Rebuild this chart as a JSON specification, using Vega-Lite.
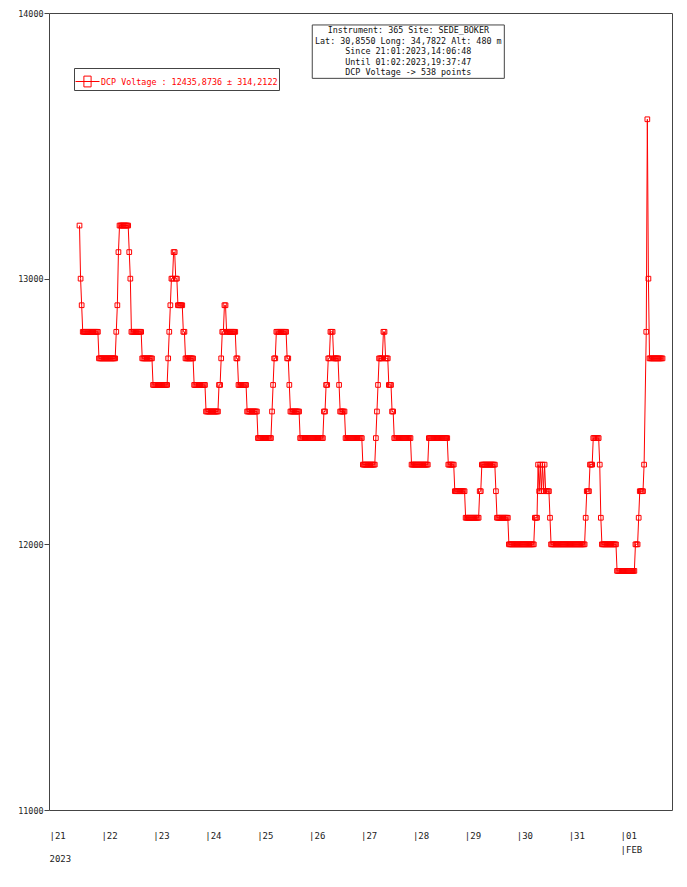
{
  "$schema": "https://vega.github.io/schema/vega-lite/v6.json",
  "width": 623,
  "height": 797,
  "autosize": {"type": "none"},
  "padding": {"left": 49, "top": 13, "right": 15, "bottom": 77},
  "background": "white",
  "config": {
    "font": "DejaVu Sans Mono",
    "view": {"stroke": "#444", "strokeWidth": 1}
  },
  "data": {
    "format": {"parse": {"t": "date:'%Y-%m-%d %H:%M'"}},
    "values": [
      {"t": "2023-01-21 14:06", "v": 13200},
      {"t": "2023-01-21 14:36", "v": 13000},
      {"t": "2023-01-21 15:06", "v": 12900},
      {"t": "2023-01-21 15:36", "v": 12800},
      {"t": "2023-01-21 16:06", "v": 12800},
      {"t": "2023-01-21 16:36", "v": 12800},
      {"t": "2023-01-21 17:06", "v": 12800},
      {"t": "2023-01-21 17:36", "v": 12800},
      {"t": "2023-01-21 18:06", "v": 12800},
      {"t": "2023-01-21 18:36", "v": 12800},
      {"t": "2023-01-21 19:06", "v": 12800},
      {"t": "2023-01-21 19:36", "v": 12800},
      {"t": "2023-01-21 20:06", "v": 12800},
      {"t": "2023-01-21 20:36", "v": 12800},
      {"t": "2023-01-21 21:06", "v": 12800},
      {"t": "2023-01-21 21:36", "v": 12800},
      {"t": "2023-01-21 22:06", "v": 12800},
      {"t": "2023-01-21 22:36", "v": 12800},
      {"t": "2023-01-21 23:06", "v": 12700},
      {"t": "2023-01-21 23:36", "v": 12700},
      {"t": "2023-01-22 00:06", "v": 12700},
      {"t": "2023-01-22 00:36", "v": 12700},
      {"t": "2023-01-22 01:06", "v": 12700},
      {"t": "2023-01-22 01:36", "v": 12700},
      {"t": "2023-01-22 02:06", "v": 12700},
      {"t": "2023-01-22 02:36", "v": 12700},
      {"t": "2023-01-22 03:06", "v": 12700},
      {"t": "2023-01-22 03:36", "v": 12700},
      {"t": "2023-01-22 04:06", "v": 12700},
      {"t": "2023-01-22 04:36", "v": 12700},
      {"t": "2023-01-22 05:06", "v": 12700},
      {"t": "2023-01-22 05:36", "v": 12700},
      {"t": "2023-01-22 06:06", "v": 12700},
      {"t": "2023-01-22 06:36", "v": 12700},
      {"t": "2023-01-22 07:06", "v": 12800},
      {"t": "2023-01-22 07:36", "v": 12900},
      {"t": "2023-01-22 08:06", "v": 13100},
      {"t": "2023-01-22 08:36", "v": 13200},
      {"t": "2023-01-22 09:06", "v": 13200},
      {"t": "2023-01-22 09:36", "v": 13200},
      {"t": "2023-01-22 10:06", "v": 13200},
      {"t": "2023-01-22 10:36", "v": 13200},
      {"t": "2023-01-22 11:06", "v": 13200},
      {"t": "2023-01-22 11:36", "v": 13200},
      {"t": "2023-01-22 12:06", "v": 13200},
      {"t": "2023-01-22 12:36", "v": 13200},
      {"t": "2023-01-22 13:06", "v": 13100},
      {"t": "2023-01-22 13:36", "v": 13000},
      {"t": "2023-01-22 14:06", "v": 12800},
      {"t": "2023-01-22 14:36", "v": 12800},
      {"t": "2023-01-22 15:06", "v": 12800},
      {"t": "2023-01-22 15:36", "v": 12800},
      {"t": "2023-01-22 16:06", "v": 12800},
      {"t": "2023-01-22 16:36", "v": 12800},
      {"t": "2023-01-22 17:06", "v": 12800},
      {"t": "2023-01-22 17:36", "v": 12800},
      {"t": "2023-01-22 18:06", "v": 12800},
      {"t": "2023-01-22 18:36", "v": 12800},
      {"t": "2023-01-22 19:06", "v": 12700},
      {"t": "2023-01-22 19:36", "v": 12700},
      {"t": "2023-01-22 20:06", "v": 12700},
      {"t": "2023-01-22 20:36", "v": 12700},
      {"t": "2023-01-22 21:06", "v": 12700},
      {"t": "2023-01-22 21:36", "v": 12700},
      {"t": "2023-01-22 22:06", "v": 12700},
      {"t": "2023-01-22 22:36", "v": 12700},
      {"t": "2023-01-22 23:06", "v": 12700},
      {"t": "2023-01-22 23:36", "v": 12700},
      {"t": "2023-01-23 00:06", "v": 12600},
      {"t": "2023-01-23 00:36", "v": 12600},
      {"t": "2023-01-23 01:06", "v": 12600},
      {"t": "2023-01-23 01:36", "v": 12600},
      {"t": "2023-01-23 02:06", "v": 12600},
      {"t": "2023-01-23 02:36", "v": 12600},
      {"t": "2023-01-23 03:06", "v": 12600},
      {"t": "2023-01-23 03:36", "v": 12600},
      {"t": "2023-01-23 04:06", "v": 12600},
      {"t": "2023-01-23 04:36", "v": 12600},
      {"t": "2023-01-23 05:06", "v": 12600},
      {"t": "2023-01-23 05:36", "v": 12600},
      {"t": "2023-01-23 06:06", "v": 12600},
      {"t": "2023-01-23 06:36", "v": 12600},
      {"t": "2023-01-23 07:06", "v": 12700},
      {"t": "2023-01-23 07:36", "v": 12800},
      {"t": "2023-01-23 08:06", "v": 12900},
      {"t": "2023-01-23 08:36", "v": 13000},
      {"t": "2023-01-23 09:06", "v": 13000},
      {"t": "2023-01-23 09:36", "v": 13100},
      {"t": "2023-01-23 10:06", "v": 13100},
      {"t": "2023-01-23 10:36", "v": 13000},
      {"t": "2023-01-23 11:06", "v": 13000},
      {"t": "2023-01-23 11:36", "v": 12900},
      {"t": "2023-01-23 12:06", "v": 12900},
      {"t": "2023-01-23 12:36", "v": 12900},
      {"t": "2023-01-23 13:06", "v": 12900},
      {"t": "2023-01-23 13:36", "v": 12900},
      {"t": "2023-01-23 14:06", "v": 12800},
      {"t": "2023-01-23 14:36", "v": 12800},
      {"t": "2023-01-23 15:06", "v": 12700},
      {"t": "2023-01-23 15:36", "v": 12700},
      {"t": "2023-01-23 16:06", "v": 12700},
      {"t": "2023-01-23 16:36", "v": 12700},
      {"t": "2023-01-23 17:06", "v": 12700},
      {"t": "2023-01-23 17:36", "v": 12700},
      {"t": "2023-01-23 18:06", "v": 12700},
      {"t": "2023-01-23 18:36", "v": 12700},
      {"t": "2023-01-23 19:06", "v": 12600},
      {"t": "2023-01-23 19:36", "v": 12600},
      {"t": "2023-01-23 20:06", "v": 12600},
      {"t": "2023-01-23 20:36", "v": 12600},
      {"t": "2023-01-23 21:06", "v": 12600},
      {"t": "2023-01-23 21:36", "v": 12600},
      {"t": "2023-01-23 22:06", "v": 12600},
      {"t": "2023-01-23 22:36", "v": 12600},
      {"t": "2023-01-23 23:06", "v": 12600},
      {"t": "2023-01-23 23:36", "v": 12600},
      {"t": "2023-01-24 00:06", "v": 12600},
      {"t": "2023-01-24 00:36", "v": 12500},
      {"t": "2023-01-24 01:06", "v": 12500},
      {"t": "2023-01-24 01:36", "v": 12500},
      {"t": "2023-01-24 02:06", "v": 12500},
      {"t": "2023-01-24 02:36", "v": 12500},
      {"t": "2023-01-24 03:06", "v": 12500},
      {"t": "2023-01-24 03:36", "v": 12500},
      {"t": "2023-01-24 04:06", "v": 12500},
      {"t": "2023-01-24 04:36", "v": 12500},
      {"t": "2023-01-24 05:06", "v": 12500},
      {"t": "2023-01-24 05:36", "v": 12500},
      {"t": "2023-01-24 06:06", "v": 12500},
      {"t": "2023-01-24 06:36", "v": 12600},
      {"t": "2023-01-24 07:06", "v": 12600},
      {"t": "2023-01-24 07:36", "v": 12700},
      {"t": "2023-01-24 08:06", "v": 12800},
      {"t": "2023-01-24 08:36", "v": 12800},
      {"t": "2023-01-24 09:06", "v": 12900},
      {"t": "2023-01-24 09:36", "v": 12900},
      {"t": "2023-01-24 10:06", "v": 12800},
      {"t": "2023-01-24 10:36", "v": 12800},
      {"t": "2023-01-24 11:06", "v": 12800},
      {"t": "2023-01-24 11:36", "v": 12800},
      {"t": "2023-01-24 12:06", "v": 12800},
      {"t": "2023-01-24 12:36", "v": 12800},
      {"t": "2023-01-24 13:06", "v": 12800},
      {"t": "2023-01-24 13:36", "v": 12800},
      {"t": "2023-01-24 14:06", "v": 12800},
      {"t": "2023-01-24 14:36", "v": 12700},
      {"t": "2023-01-24 15:06", "v": 12700},
      {"t": "2023-01-24 15:36", "v": 12600},
      {"t": "2023-01-24 16:06", "v": 12600},
      {"t": "2023-01-24 16:36", "v": 12600},
      {"t": "2023-01-24 17:06", "v": 12600},
      {"t": "2023-01-24 17:36", "v": 12600},
      {"t": "2023-01-24 18:06", "v": 12600},
      {"t": "2023-01-24 18:36", "v": 12600},
      {"t": "2023-01-24 19:06", "v": 12600},
      {"t": "2023-01-24 19:36", "v": 12500},
      {"t": "2023-01-24 20:06", "v": 12500},
      {"t": "2023-01-24 20:36", "v": 12500},
      {"t": "2023-01-24 21:06", "v": 12500},
      {"t": "2023-01-24 21:36", "v": 12500},
      {"t": "2023-01-24 22:06", "v": 12500},
      {"t": "2023-01-24 22:36", "v": 12500},
      {"t": "2023-01-24 23:06", "v": 12500},
      {"t": "2023-01-24 23:36", "v": 12500},
      {"t": "2023-01-25 00:06", "v": 12500},
      {"t": "2023-01-25 00:36", "v": 12400},
      {"t": "2023-01-25 01:06", "v": 12400},
      {"t": "2023-01-25 01:36", "v": 12400},
      {"t": "2023-01-25 02:06", "v": 12400},
      {"t": "2023-01-25 02:36", "v": 12400},
      {"t": "2023-01-25 03:06", "v": 12400},
      {"t": "2023-01-25 03:36", "v": 12400},
      {"t": "2023-01-25 04:06", "v": 12400},
      {"t": "2023-01-25 04:36", "v": 12400},
      {"t": "2023-01-25 05:06", "v": 12400},
      {"t": "2023-01-25 05:36", "v": 12400},
      {"t": "2023-01-25 06:06", "v": 12400},
      {"t": "2023-01-25 06:36", "v": 12400},
      {"t": "2023-01-25 07:06", "v": 12500},
      {"t": "2023-01-25 07:36", "v": 12600},
      {"t": "2023-01-25 08:06", "v": 12700},
      {"t": "2023-01-25 08:36", "v": 12700},
      {"t": "2023-01-25 09:06", "v": 12800},
      {"t": "2023-01-25 09:36", "v": 12800},
      {"t": "2023-01-25 10:06", "v": 12800},
      {"t": "2023-01-25 10:36", "v": 12800},
      {"t": "2023-01-25 11:06", "v": 12800},
      {"t": "2023-01-25 11:36", "v": 12800},
      {"t": "2023-01-25 12:06", "v": 12800},
      {"t": "2023-01-25 12:36", "v": 12800},
      {"t": "2023-01-25 13:06", "v": 12800},
      {"t": "2023-01-25 13:36", "v": 12800},
      {"t": "2023-01-25 14:06", "v": 12700},
      {"t": "2023-01-25 14:36", "v": 12700},
      {"t": "2023-01-25 15:06", "v": 12600},
      {"t": "2023-01-25 15:36", "v": 12500},
      {"t": "2023-01-25 16:06", "v": 12500},
      {"t": "2023-01-25 16:36", "v": 12500},
      {"t": "2023-01-25 17:06", "v": 12500},
      {"t": "2023-01-25 17:36", "v": 12500},
      {"t": "2023-01-25 18:06", "v": 12500},
      {"t": "2023-01-25 18:36", "v": 12500},
      {"t": "2023-01-25 19:06", "v": 12500},
      {"t": "2023-01-25 19:36", "v": 12500},
      {"t": "2023-01-25 20:06", "v": 12400},
      {"t": "2023-01-25 20:36", "v": 12400},
      {"t": "2023-01-25 21:06", "v": 12400},
      {"t": "2023-01-25 21:36", "v": 12400},
      {"t": "2023-01-25 22:06", "v": 12400},
      {"t": "2023-01-25 22:36", "v": 12400},
      {"t": "2023-01-25 23:06", "v": 12400},
      {"t": "2023-01-25 23:36", "v": 12400},
      {"t": "2023-01-26 00:06", "v": 12400},
      {"t": "2023-01-26 00:36", "v": 12400},
      {"t": "2023-01-26 01:06", "v": 12400},
      {"t": "2023-01-26 01:36", "v": 12400},
      {"t": "2023-01-26 02:06", "v": 12400},
      {"t": "2023-01-26 02:36", "v": 12400},
      {"t": "2023-01-26 03:06", "v": 12400},
      {"t": "2023-01-26 03:36", "v": 12400},
      {"t": "2023-01-26 04:06", "v": 12400},
      {"t": "2023-01-26 04:36", "v": 12400},
      {"t": "2023-01-26 05:06", "v": 12400},
      {"t": "2023-01-26 05:36", "v": 12400},
      {"t": "2023-01-26 06:06", "v": 12400},
      {"t": "2023-01-26 06:36", "v": 12400},
      {"t": "2023-01-26 07:06", "v": 12500},
      {"t": "2023-01-26 07:36", "v": 12500},
      {"t": "2023-01-26 08:06", "v": 12600},
      {"t": "2023-01-26 08:36", "v": 12600},
      {"t": "2023-01-26 09:06", "v": 12700},
      {"t": "2023-01-26 09:36", "v": 12700},
      {"t": "2023-01-26 10:06", "v": 12800},
      {"t": "2023-01-26 10:36", "v": 12800},
      {"t": "2023-01-26 11:06", "v": 12800},
      {"t": "2023-01-26 11:36", "v": 12700},
      {"t": "2023-01-26 12:06", "v": 12700},
      {"t": "2023-01-26 12:36", "v": 12700},
      {"t": "2023-01-26 13:06", "v": 12700},
      {"t": "2023-01-26 13:36", "v": 12700},
      {"t": "2023-01-26 14:06", "v": 12600},
      {"t": "2023-01-26 14:36", "v": 12500},
      {"t": "2023-01-26 15:06", "v": 12500},
      {"t": "2023-01-26 15:36", "v": 12500},
      {"t": "2023-01-26 16:06", "v": 12500},
      {"t": "2023-01-26 16:36", "v": 12500},
      {"t": "2023-01-26 17:06", "v": 12400},
      {"t": "2023-01-26 17:36", "v": 12400},
      {"t": "2023-01-26 18:06", "v": 12400},
      {"t": "2023-01-26 18:36", "v": 12400},
      {"t": "2023-01-26 19:06", "v": 12400},
      {"t": "2023-01-26 19:36", "v": 12400},
      {"t": "2023-01-26 20:06", "v": 12400},
      {"t": "2023-01-26 20:36", "v": 12400},
      {"t": "2023-01-26 21:06", "v": 12400},
      {"t": "2023-01-26 21:36", "v": 12400},
      {"t": "2023-01-26 22:06", "v": 12400},
      {"t": "2023-01-26 22:36", "v": 12400},
      {"t": "2023-01-26 23:06", "v": 12400},
      {"t": "2023-01-26 23:36", "v": 12400},
      {"t": "2023-01-27 00:06", "v": 12400},
      {"t": "2023-01-27 00:36", "v": 12400},
      {"t": "2023-01-27 01:06", "v": 12300},
      {"t": "2023-01-27 01:36", "v": 12300},
      {"t": "2023-01-27 02:06", "v": 12300},
      {"t": "2023-01-27 02:36", "v": 12300},
      {"t": "2023-01-27 03:06", "v": 12300},
      {"t": "2023-01-27 03:36", "v": 12300},
      {"t": "2023-01-27 04:06", "v": 12300},
      {"t": "2023-01-27 04:36", "v": 12300},
      {"t": "2023-01-27 05:06", "v": 12300},
      {"t": "2023-01-27 05:36", "v": 12300},
      {"t": "2023-01-27 06:06", "v": 12300},
      {"t": "2023-01-27 06:36", "v": 12300},
      {"t": "2023-01-27 07:06", "v": 12400},
      {"t": "2023-01-27 07:36", "v": 12500},
      {"t": "2023-01-27 08:06", "v": 12600},
      {"t": "2023-01-27 08:36", "v": 12700},
      {"t": "2023-01-27 09:06", "v": 12700},
      {"t": "2023-01-27 09:36", "v": 12700},
      {"t": "2023-01-27 10:06", "v": 12700},
      {"t": "2023-01-27 10:36", "v": 12800},
      {"t": "2023-01-27 11:06", "v": 12800},
      {"t": "2023-01-27 11:36", "v": 12700},
      {"t": "2023-01-27 12:06", "v": 12700},
      {"t": "2023-01-27 12:36", "v": 12700},
      {"t": "2023-01-27 13:06", "v": 12600},
      {"t": "2023-01-27 13:36", "v": 12600},
      {"t": "2023-01-27 14:06", "v": 12600},
      {"t": "2023-01-27 14:36", "v": 12500},
      {"t": "2023-01-27 15:06", "v": 12500},
      {"t": "2023-01-27 15:36", "v": 12400},
      {"t": "2023-01-27 16:06", "v": 12400},
      {"t": "2023-01-27 16:36", "v": 12400},
      {"t": "2023-01-27 17:06", "v": 12400},
      {"t": "2023-01-27 17:36", "v": 12400},
      {"t": "2023-01-27 18:06", "v": 12400},
      {"t": "2023-01-27 18:36", "v": 12400},
      {"t": "2023-01-27 19:06", "v": 12400},
      {"t": "2023-01-27 19:36", "v": 12400},
      {"t": "2023-01-27 20:06", "v": 12400},
      {"t": "2023-01-27 20:36", "v": 12400},
      {"t": "2023-01-27 21:06", "v": 12400},
      {"t": "2023-01-27 21:36", "v": 12400},
      {"t": "2023-01-27 22:06", "v": 12400},
      {"t": "2023-01-27 22:36", "v": 12400},
      {"t": "2023-01-27 23:06", "v": 12400},
      {"t": "2023-01-27 23:36", "v": 12300},
      {"t": "2023-01-28 00:06", "v": 12300},
      {"t": "2023-01-28 00:36", "v": 12300},
      {"t": "2023-01-28 01:06", "v": 12300},
      {"t": "2023-01-28 01:36", "v": 12300},
      {"t": "2023-01-28 02:06", "v": 12300},
      {"t": "2023-01-28 02:36", "v": 12300},
      {"t": "2023-01-28 03:06", "v": 12300},
      {"t": "2023-01-28 03:36", "v": 12300},
      {"t": "2023-01-28 04:06", "v": 12300},
      {"t": "2023-01-28 04:36", "v": 12300},
      {"t": "2023-01-28 05:06", "v": 12300},
      {"t": "2023-01-28 05:36", "v": 12300},
      {"t": "2023-01-28 06:06", "v": 12300},
      {"t": "2023-01-28 06:36", "v": 12300},
      {"t": "2023-01-28 07:06", "v": 12300},
      {"t": "2023-01-28 07:36", "v": 12400},
      {"t": "2023-01-28 08:06", "v": 12400},
      {"t": "2023-01-28 08:36", "v": 12400},
      {"t": "2023-01-28 09:06", "v": 12400},
      {"t": "2023-01-28 09:36", "v": 12400},
      {"t": "2023-01-28 10:06", "v": 12400},
      {"t": "2023-01-28 10:36", "v": 12400},
      {"t": "2023-01-28 11:06", "v": 12400},
      {"t": "2023-01-28 11:36", "v": 12400},
      {"t": "2023-01-28 12:06", "v": 12400},
      {"t": "2023-01-28 12:36", "v": 12400},
      {"t": "2023-01-28 13:06", "v": 12400},
      {"t": "2023-01-28 13:36", "v": 12400},
      {"t": "2023-01-28 14:06", "v": 12400},
      {"t": "2023-01-28 14:36", "v": 12400},
      {"t": "2023-01-28 15:06", "v": 12400},
      {"t": "2023-01-28 15:36", "v": 12400},
      {"t": "2023-01-28 16:06", "v": 12400},
      {"t": "2023-01-28 16:36", "v": 12300},
      {"t": "2023-01-28 17:06", "v": 12300},
      {"t": "2023-01-28 17:36", "v": 12300},
      {"t": "2023-01-28 18:06", "v": 12300},
      {"t": "2023-01-28 18:36", "v": 12300},
      {"t": "2023-01-28 19:06", "v": 12300},
      {"t": "2023-01-28 19:36", "v": 12200},
      {"t": "2023-01-28 20:06", "v": 12200},
      {"t": "2023-01-28 20:36", "v": 12200},
      {"t": "2023-01-28 21:06", "v": 12200},
      {"t": "2023-01-28 21:36", "v": 12200},
      {"t": "2023-01-28 22:06", "v": 12200},
      {"t": "2023-01-28 22:36", "v": 12200},
      {"t": "2023-01-28 23:06", "v": 12200},
      {"t": "2023-01-28 23:36", "v": 12200},
      {"t": "2023-01-29 00:06", "v": 12200},
      {"t": "2023-01-29 00:36", "v": 12100},
      {"t": "2023-01-29 01:06", "v": 12100},
      {"t": "2023-01-29 01:36", "v": 12100},
      {"t": "2023-01-29 02:06", "v": 12100},
      {"t": "2023-01-29 02:36", "v": 12100},
      {"t": "2023-01-29 03:06", "v": 12100},
      {"t": "2023-01-29 03:36", "v": 12100},
      {"t": "2023-01-29 04:06", "v": 12100},
      {"t": "2023-01-29 04:36", "v": 12100},
      {"t": "2023-01-29 05:06", "v": 12100},
      {"t": "2023-01-29 05:36", "v": 12100},
      {"t": "2023-01-29 06:06", "v": 12100},
      {"t": "2023-01-29 06:36", "v": 12100},
      {"t": "2023-01-29 07:06", "v": 12200},
      {"t": "2023-01-29 07:36", "v": 12200},
      {"t": "2023-01-29 08:06", "v": 12300},
      {"t": "2023-01-29 08:36", "v": 12300},
      {"t": "2023-01-29 09:06", "v": 12300},
      {"t": "2023-01-29 09:36", "v": 12300},
      {"t": "2023-01-29 10:06", "v": 12300},
      {"t": "2023-01-29 10:36", "v": 12300},
      {"t": "2023-01-29 11:06", "v": 12300},
      {"t": "2023-01-29 11:36", "v": 12300},
      {"t": "2023-01-29 12:06", "v": 12300},
      {"t": "2023-01-29 12:36", "v": 12300},
      {"t": "2023-01-29 13:06", "v": 12300},
      {"t": "2023-01-29 13:36", "v": 12300},
      {"t": "2023-01-29 14:06", "v": 12300},
      {"t": "2023-01-29 14:36", "v": 12200},
      {"t": "2023-01-29 15:06", "v": 12100},
      {"t": "2023-01-29 15:36", "v": 12100},
      {"t": "2023-01-29 16:06", "v": 12100},
      {"t": "2023-01-29 16:36", "v": 12100},
      {"t": "2023-01-29 17:06", "v": 12100},
      {"t": "2023-01-29 17:36", "v": 12100},
      {"t": "2023-01-29 18:06", "v": 12100},
      {"t": "2023-01-29 18:36", "v": 12100},
      {"t": "2023-01-29 19:06", "v": 12100},
      {"t": "2023-01-29 19:36", "v": 12100},
      {"t": "2023-01-29 20:06", "v": 12100},
      {"t": "2023-01-29 20:36", "v": 12000},
      {"t": "2023-01-29 21:06", "v": 12000},
      {"t": "2023-01-29 21:36", "v": 12000},
      {"t": "2023-01-29 22:06", "v": 12000},
      {"t": "2023-01-29 22:36", "v": 12000},
      {"t": "2023-01-29 23:06", "v": 12000},
      {"t": "2023-01-29 23:36", "v": 12000},
      {"t": "2023-01-30 00:06", "v": 12000},
      {"t": "2023-01-30 00:36", "v": 12000},
      {"t": "2023-01-30 01:06", "v": 12000},
      {"t": "2023-01-30 01:36", "v": 12000},
      {"t": "2023-01-30 02:06", "v": 12000},
      {"t": "2023-01-30 02:36", "v": 12000},
      {"t": "2023-01-30 03:06", "v": 12000},
      {"t": "2023-01-30 03:36", "v": 12000},
      {"t": "2023-01-30 04:06", "v": 12000},
      {"t": "2023-01-30 04:36", "v": 12000},
      {"t": "2023-01-30 05:06", "v": 12000},
      {"t": "2023-01-30 05:36", "v": 12000},
      {"t": "2023-01-30 06:06", "v": 12000},
      {"t": "2023-01-30 06:36", "v": 12000},
      {"t": "2023-01-30 07:06", "v": 12000},
      {"t": "2023-01-30 07:36", "v": 12000},
      {"t": "2023-01-30 08:06", "v": 12000},
      {"t": "2023-01-30 08:36", "v": 12100},
      {"t": "2023-01-30 09:06", "v": 12100},
      {"t": "2023-01-30 09:36", "v": 12100},
      {"t": "2023-01-30 10:06", "v": 12300},
      {"t": "2023-01-30 10:36", "v": 12200},
      {"t": "2023-01-30 11:06", "v": 12300},
      {"t": "2023-01-30 11:36", "v": 12200},
      {"t": "2023-01-30 12:06", "v": 12300},
      {"t": "2023-01-30 12:36", "v": 12200},
      {"t": "2023-01-30 13:06", "v": 12300},
      {"t": "2023-01-30 13:36", "v": 12200},
      {"t": "2023-01-30 14:06", "v": 12200},
      {"t": "2023-01-30 14:36", "v": 12200},
      {"t": "2023-01-30 15:06", "v": 12200},
      {"t": "2023-01-30 15:36", "v": 12100},
      {"t": "2023-01-30 16:06", "v": 12000},
      {"t": "2023-01-30 16:36", "v": 12000},
      {"t": "2023-01-30 17:06", "v": 12000},
      {"t": "2023-01-30 17:36", "v": 12000},
      {"t": "2023-01-30 18:06", "v": 12000},
      {"t": "2023-01-30 18:36", "v": 12000},
      {"t": "2023-01-30 19:06", "v": 12000},
      {"t": "2023-01-30 19:36", "v": 12000},
      {"t": "2023-01-30 20:06", "v": 12000},
      {"t": "2023-01-30 20:36", "v": 12000},
      {"t": "2023-01-30 21:06", "v": 12000},
      {"t": "2023-01-30 21:36", "v": 12000},
      {"t": "2023-01-30 22:06", "v": 12000},
      {"t": "2023-01-30 22:36", "v": 12000},
      {"t": "2023-01-30 23:06", "v": 12000},
      {"t": "2023-01-30 23:36", "v": 12000},
      {"t": "2023-01-31 00:06", "v": 12000},
      {"t": "2023-01-31 00:36", "v": 12000},
      {"t": "2023-01-31 01:06", "v": 12000},
      {"t": "2023-01-31 01:36", "v": 12000},
      {"t": "2023-01-31 02:06", "v": 12000},
      {"t": "2023-01-31 02:36", "v": 12000},
      {"t": "2023-01-31 03:06", "v": 12000},
      {"t": "2023-01-31 03:36", "v": 12000},
      {"t": "2023-01-31 04:06", "v": 12000},
      {"t": "2023-01-31 04:36", "v": 12000},
      {"t": "2023-01-31 05:06", "v": 12000},
      {"t": "2023-01-31 05:36", "v": 12000},
      {"t": "2023-01-31 06:06", "v": 12000},
      {"t": "2023-01-31 06:36", "v": 12000},
      {"t": "2023-01-31 07:06", "v": 12000},
      {"t": "2023-01-31 07:36", "v": 12000},
      {"t": "2023-01-31 08:06", "v": 12100},
      {"t": "2023-01-31 08:36", "v": 12200},
      {"t": "2023-01-31 09:06", "v": 12200},
      {"t": "2023-01-31 09:36", "v": 12200},
      {"t": "2023-01-31 10:06", "v": 12300},
      {"t": "2023-01-31 10:36", "v": 12300},
      {"t": "2023-01-31 11:06", "v": 12300},
      {"t": "2023-01-31 11:36", "v": 12400},
      {"t": "2023-01-31 12:06", "v": 12400},
      {"t": "2023-01-31 12:36", "v": 12400},
      {"t": "2023-01-31 13:06", "v": 12400},
      {"t": "2023-01-31 13:36", "v": 12400},
      {"t": "2023-01-31 14:06", "v": 12400},
      {"t": "2023-01-31 14:36", "v": 12300},
      {"t": "2023-01-31 15:06", "v": 12100},
      {"t": "2023-01-31 15:36", "v": 12000},
      {"t": "2023-01-31 16:06", "v": 12000},
      {"t": "2023-01-31 16:36", "v": 12000},
      {"t": "2023-01-31 17:06", "v": 12000},
      {"t": "2023-01-31 17:36", "v": 12000},
      {"t": "2023-01-31 18:06", "v": 12000},
      {"t": "2023-01-31 18:36", "v": 12000},
      {"t": "2023-01-31 19:06", "v": 12000},
      {"t": "2023-01-31 19:36", "v": 12000},
      {"t": "2023-01-31 20:06", "v": 12000},
      {"t": "2023-01-31 20:36", "v": 12000},
      {"t": "2023-01-31 21:06", "v": 12000},
      {"t": "2023-01-31 21:36", "v": 12000},
      {"t": "2023-01-31 22:06", "v": 12000},
      {"t": "2023-01-31 22:36", "v": 11900},
      {"t": "2023-01-31 23:06", "v": 11900},
      {"t": "2023-01-31 23:36", "v": 11900},
      {"t": "2023-02-01 00:06", "v": 11900},
      {"t": "2023-02-01 00:36", "v": 11900},
      {"t": "2023-02-01 01:06", "v": 11900},
      {"t": "2023-02-01 01:36", "v": 11900},
      {"t": "2023-02-01 02:06", "v": 11900},
      {"t": "2023-02-01 02:36", "v": 11900},
      {"t": "2023-02-01 03:06", "v": 11900},
      {"t": "2023-02-01 03:36", "v": 11900},
      {"t": "2023-02-01 04:06", "v": 11900},
      {"t": "2023-02-01 04:36", "v": 11900},
      {"t": "2023-02-01 05:06", "v": 11900},
      {"t": "2023-02-01 05:36", "v": 11900},
      {"t": "2023-02-01 06:06", "v": 11900},
      {"t": "2023-02-01 06:36", "v": 11900},
      {"t": "2023-02-01 07:06", "v": 12000},
      {"t": "2023-02-01 07:36", "v": 12000},
      {"t": "2023-02-01 08:06", "v": 12000},
      {"t": "2023-02-01 08:36", "v": 12100},
      {"t": "2023-02-01 09:06", "v": 12200},
      {"t": "2023-02-01 09:36", "v": 12200},
      {"t": "2023-02-01 10:06", "v": 12200},
      {"t": "2023-02-01 10:36", "v": 12200},
      {"t": "2023-02-01 11:06", "v": 12300},
      {"t": "2023-02-01 12:06", "v": 12800},
      {"t": "2023-02-01 12:36", "v": 13600},
      {"t": "2023-02-01 13:06", "v": 13000},
      {"t": "2023-02-01 13:36", "v": 12700},
      {"t": "2023-02-01 14:06", "v": 12700},
      {"t": "2023-02-01 14:36", "v": 12700},
      {"t": "2023-02-01 15:06", "v": 12700},
      {"t": "2023-02-01 15:36", "v": 12700},
      {"t": "2023-02-01 16:06", "v": 12700},
      {"t": "2023-02-01 16:36", "v": 12700},
      {"t": "2023-02-01 17:06", "v": 12700},
      {"t": "2023-02-01 17:36", "v": 12700},
      {"t": "2023-02-01 18:06", "v": 12700},
      {"t": "2023-02-01 18:36", "v": 12700},
      {"t": "2023-02-01 19:06", "v": 12700},
      {"t": "2023-02-01 19:37", "v": 12700}
    ]
  },
  "encoding": {
    "x": {
      "field": "t",
      "type": "temporal",
      "title": "2023",
      "scale": {
        "domain": [
          {"year": 2023, "month": "jan", "date": 21},
          {"year": 2023, "month": "feb", "date": 2}
        ]
      },
      "axis": {
        "values": [
          {"year": 2023, "month": "jan", "date": 21},
          {"year": 2023, "month": "jan", "date": 22},
          {"year": 2023, "month": "jan", "date": 23},
          {"year": 2023, "month": "jan", "date": 24},
          {"year": 2023, "month": "jan", "date": 25},
          {"year": 2023, "month": "jan", "date": 26},
          {"year": 2023, "month": "jan", "date": 27},
          {"year": 2023, "month": "jan", "date": 28},
          {"year": 2023, "month": "jan", "date": 29},
          {"year": 2023, "month": "jan", "date": 30},
          {"year": 2023, "month": "jan", "date": 31},
          {"year": 2023, "month": "feb", "date": 1}
        ],
        "labelExpr": "date(datum.value) == 1 ? ['|01', '|FEB'] : '|' + timeFormat(datum.value, '%d')",
        "domain": false,
        "ticks": false,
        "grid": false,
        "labelAlign": "left",
        "labelBaseline": "top",
        "labelPadding": 21,
        "labelDx": -2,
        "labelFlush": false,
        "labelOverlap": false,
        "labelFont": "DejaVu Sans Mono",
        "labelFontSize": 9,
        "labelLineHeight": 14,
        "labelColor": "#222",
        "titleFont": "DejaVu Sans Mono",
        "titleFontSize": 9,
        "titleFontWeight": "normal",
        "titleColor": "#222",
        "titleAnchor": "start",
        "titleAlign": "left",
        "titleBaseline": "middle",
        "titleX": 0,
        "titleY": 48
      }
    },
    "y": {
      "field": "v",
      "type": "quantitative",
      "title": null,
      "scale": {"domain": [11000, 14000], "nice": false, "zero": false},
      "axis": {
        "values": [11000, 12000, 13000, 14000],
        "format": "d",
        "domain": false,
        "grid": false,
        "tickSize": 5,
        "tickColor": "#444",
        "labelPadding": 1,
        "labelFont": "DejaVu Sans Mono",
        "labelFontSize": 8.4,
        "labelColor": "#222"
      }
    }
  },
  "layer": [
    {
      "mark": {
        "type": "line",
        "strokeWidth": 1,
        "point": {"shape": "square", "filled": false, "size": 22, "strokeWidth": 1}
      },
      "encoding": {
        "color": {
          "datum": "DCP Voltage : 12435,8736 ± 314,2122",
          "type": "nominal",
          "scale": {"range": ["#ff0000"]},
          "legend": {
            "title": null,
            "orient": "none",
            "legendX": 25,
            "legendY": 55,
            "padding": 1,
            "strokeColor": "#444",
            "fillColor": "white",
            "symbolType": "M-1,0H1M-0.3,-0.45H0.3V0.45H-0.3Z",
            "symbolSize": 576,
            "symbolStrokeWidth": 1,
            "symbolStrokeColor": "#ff0000",
            "symbolFillColor": "transparent",
            "labelColor": "#ff0000",
            "labelFont": "DejaVu Sans Mono",
            "labelFontSize": 8.4,
            "labelOffset": 1,
            "labelLimit": 0,
            "rowPadding": 0
          }
        }
      }
    },
    {
      "transform": [{"filter": "datum.v == 13600"}],
      "mark": {"type": "rect", "fill": "white", "stroke": "#444", "strokeWidth": 1},
      "encoding": {
        "x": {"datum": {"year": 2023, "month": "jan", "date": 26, "hours": 1, "minutes": 42}, "type": "temporal"},
        "x2": {"datum": {"year": 2023, "month": "jan", "date": 29, "hours": 18, "minutes": 29}},
        "y": {"datum": 13955, "type": "quantitative"},
        "y2": {"datum": 13754}
      }
    },
    {
      "transform": [{"filter": "datum.v == 13600"}],
      "mark": {
        "type": "text",
        "align": "center",
        "baseline": "middle",
        "font": "DejaVu Sans Mono",
        "fontSize": 8.4,
        "lineHeight": 10.6,
        "color": "#111",
        "text": [
          "Instrument: 365 Site: SEDE_BOKER",
          "Lat: 30,8550 Long: 34,7822 Alt: 480 m",
          "Since 21:01:2023,14:06:48",
          "Until 01:02:2023,19:37:47",
          "DCP Voltage -> 538 points"
        ]
      },
      "encoding": {
        "x": {"datum": {"year": 2023, "month": "jan", "date": 27, "hours": 22, "minutes": 6}, "type": "temporal"},
        "y": {"datum": 13936, "type": "quantitative"}
      }
    }
  ]
}
